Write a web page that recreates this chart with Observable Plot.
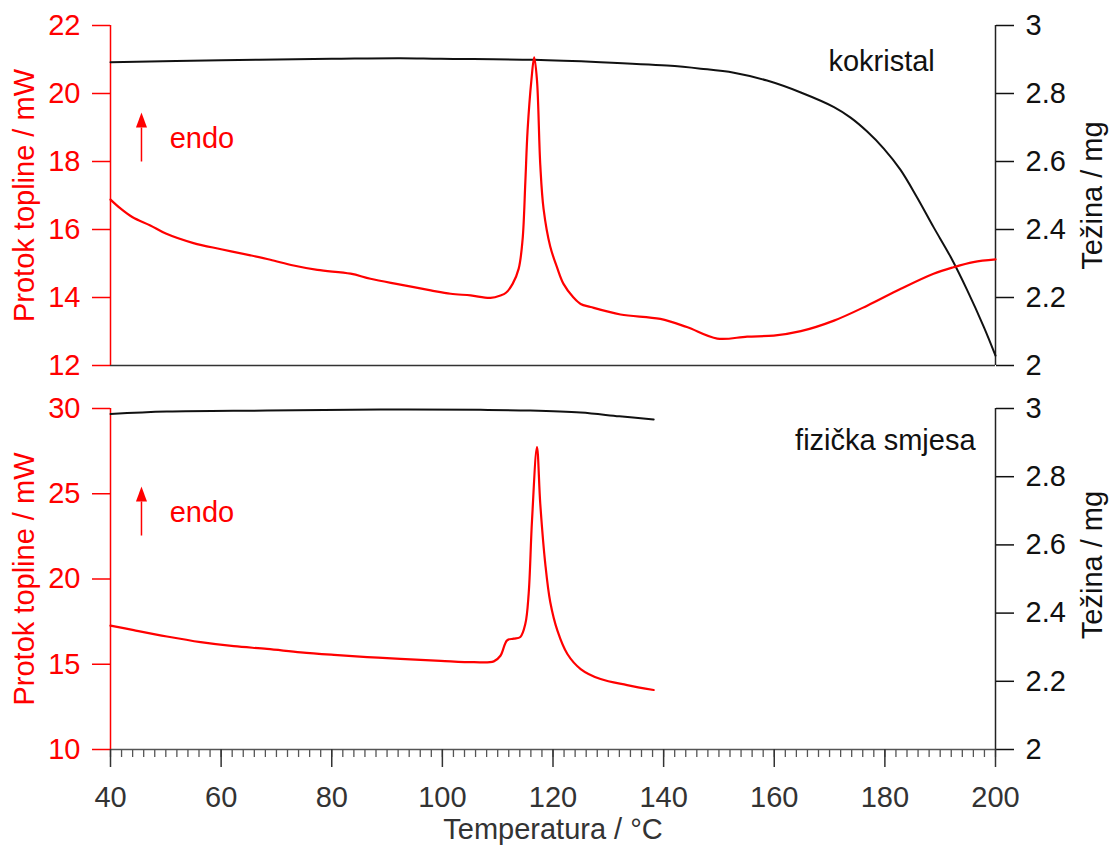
<!DOCTYPE html>
<html><head><meta charset="utf-8">
<script src="https://cdn.jsdelivr.net/npm/d3@7"></script>
<script src="https://cdn.jsdelivr.net/npm/@observablehq/plot@0.6"></script>
<style>
body{margin:0;background:#fff;font-family:"Liberation Sans",Arial,sans-serif}
#chart svg{display:block}
</style>
</head><body><div id="chart"></div>
<script>
// ---- data: kokristal (top) ----
const kokTemp = [40, 41.8, 44, 47.2, 50, 55, 60, 65.3, 68.9, 73.1, 77.4, 83.4, 87, 92.4, 97.9, 101.5, 105.1, 108.7, 110.5, 111.5, 112.7, 113.8, 114.5, 115, 115.4, 116.1, 116.6, 117.1, 117.7, 118.3, 119.5, 120.7, 121.9, 123.7, 125, 126.8, 132.2, 139.4, 144.2, 149.7, 155.1, 159.9, 164.8, 170.8, 176.8, 182.8, 188.8, 192.4, 196, 200];
const kokHeat = [16.88, 16.62, 16.36, 16.12, 15.88, 15.6, 15.42, 15.24, 15.11, 14.94, 14.81, 14.7, 14.55, 14.38, 14.21, 14.11, 14.06, 13.99, 14.06, 14.14, 14.4, 14.85, 15.7, 17.4, 18.9, 20.4, 21.06, 20.4, 17.9, 16.6, 15.5, 14.9, 14.4, 14.0, 13.81, 13.72, 13.5, 13.37, 13.13, 12.79, 12.85, 12.88, 13.01, 13.32, 13.76, 14.25, 14.7, 14.89, 15.04, 15.12];
const kokTgaTemp = [40, 60, 80, 92.4, 99.7, 116.5, 128.6, 140.6, 146.7, 152.7, 158.7, 164.8, 170.8, 173.8, 176.8, 179.8, 182.8, 185.8, 188.8, 191.9, 194.9, 197.9, 200];
const kokMass = [2.892, 2.898, 2.902, 2.904, 2.902, 2.899, 2.892, 2.882, 2.873, 2.861, 2.838, 2.803, 2.760, 2.729, 2.688, 2.638, 2.576, 2.495, 2.407, 2.319, 2.221, 2.113, 2.029];

// ---- data: fizička smjesa (bottom) ----
const mixTemp = [40, 44.2, 50.2, 56.3, 62.3, 68.3, 74.4, 80.4, 86.4, 92.4, 99.7, 105.7, 109.3, 110.5, 111.7, 112.9, 114.1, 115.0, 115.6, 116.2, 117.1, 117.7, 118.6, 119.5, 120.8, 122.6, 125, 128.6, 133.4, 138.2];
const mixHeat = [17.27, 17.0, 16.63, 16.3, 16.06, 15.9, 15.7, 15.55, 15.42, 15.32, 15.2, 15.12, 15.17, 15.5, 16.4, 16.5, 16.6, 17.37, 19.13, 23.4, 27.73, 24.4, 20.9, 18.65, 16.97, 15.6, 14.72, 14.13, 13.78, 13.49];
const mixTgaTemp = [40, 50.2, 68.3, 88.8, 106.9, 115.9, 125, 132, 138.2];
const mixMass = [2.984, 2.991, 2.994, 2.997, 2.996, 2.994, 2.988, 2.977, 2.968];

// ---- ticks and labels ----
const xTicks = [40, 60, 80, 100, 120, 140, 160, 180, 200];
const xMinorTicks = d3.range(40, 201, 2);
const topHeatTicks = [12, 14, 16, 18, 20, 22];
const bottomHeatTicks = [10, 15, 20, 25, 30];
const massTicks = [2, 2.2, 2.4, 2.6, 2.8, 3];
const heatLabel = "Protok topline / mW";
const massLabel = "Težina / mg";
const tempLabel = "Temperatura / °C";
const sampleNames = ["kokristal", "fizička smjesa"];
const endoText = "endo";

const FS = 29;
const FONT = "Liberation Sans, Arial, sans-serif";
const fmt = d3.format(".1~f");
const smooth = d3.curveCatmullRom.alpha(0.5);

function panel(o) {
  const toHeat = d3.scaleLinear([2, 3], o.heatDomain);
  const dsc = o.temp.map((t, i) => ({t, v: o.heat[i]}));
  const tga = o.tgaTemp.map((t, i) => ({t, v: toHeat(o.mass[i])}));
  const marks = [
    Plot.ruleY([o.heatDomain[0]], {stroke: o.showX ? "#555" : "#333", strokeWidth: 1.5}),
    Plot.ruleX([40], {stroke: "red", strokeWidth: 1.5}),
    Plot.ruleX([200], {stroke: "#222", strokeWidth: 1.5}),
    Plot.axisY(o.heatTicks, {anchor: "left", color: "red", tickSize: 18, tickPadding: 12, strokeWidth: 1.5,
      fontSize: FS, label: heatLabel, labelAnchor: "center", labelOffset: 97, labelArrow: "none"}),
    Plot.axisY(massTicks.map(toHeat), {anchor: "right", color: "#111", tickSize: 18, tickPadding: 12, strokeWidth: 1.5,
      fontSize: FS, tickFormat: d => fmt(toHeat.invert(d)), label: null}),
    Plot.text([massLabel], {frameAnchor: "right", text: d => d, rotate: -90, dx: 106, dy: o.massLabelShift,
      lineAnchor: "bottom", textAnchor: "middle", fontSize: FS, fill: "#111"}),
    Plot.line(tga, {x: "t", y: "v", stroke: "#111", strokeWidth: 2, curve: smooth}),
    Plot.line(dsc, {x: "t", y: "v", stroke: "red", strokeWidth: 2.2, curve: smooth}),
    Plot.text([o.name], {x: o.nameAt[0], y: o.nameAt[1], text: d => d, textAnchor: o.nameAnchor, lineAnchor: "bottom", fontSize: FS, fill: "#111"}),
    Plot.text([endoText], {x: o.endoAt[0], y: o.endoAt[1], text: d => d, textAnchor: "start", lineAnchor: "bottom", fontSize: FS, fill: "red"}),
    Plot.link([0], {x1: o.arrow[0], y1: o.arrow[1], x2: o.arrow[0], y2: o.arrow[2], stroke: "red", strokeWidth: 1.5}),
    Plot.vector([0], {x: o.arrow[0], y: o.arrow[2], length: 15, r: 5.5, shape: "spike", anchor: "start", fill: "red", stroke: "none"})
  ];
  if (o.showX) {
    marks.push(
      Plot.axisX(xMinorTicks, {anchor: "bottom", tickSize: 8, stroke: "#555", strokeWidth: 1.3, tickFormat: () => "", label: null}),
      Plot.axisX(xTicks, {anchor: "bottom", tickSize: 18, tickPadding: 19, color: "#333", strokeWidth: 1.5, fontSize: FS,
        label: tempLabel, labelAnchor: "center", labelOffset: 89, labelArrow: "none"})
    );
  }
  return Plot.plot({
    width: 1110, height: o.height,
    marginLeft: 110, marginRight: 115, marginTop: o.marginTop, marginBottom: o.marginBottom,
    style: {fontFamily: FONT, fontSize: FS + "px", background: "#fff"},
    x: {domain: [40, 200], axis: null},
    y: {domain: o.heatDomain, axis: null},
    marks
  });
}

const topPlot = panel({
  heatDomain: [12, 22], heatTicks: topHeatTicks,
  temp: kokTemp, heat: kokHeat, tgaTemp: kokTgaTemp, mass: kokMass,
  name: sampleNames[0], nameAt: [169.8, 20.65], nameAnchor: "start",
  endoAt: [50.7, 18.39], arrow: [45.6, 18.0, 19.0], massLabelShift: 0,
  height: 380, marginTop: 25, marginBottom: 15, showX: false
});
const bottomPlot = panel({
  heatDomain: [10, 30], heatTicks: bottomHeatTicks,
  temp: mixTemp, heat: mixHeat, tgaTemp: mixTgaTemp, mass: mixMass,
  name: sampleNames[1], nameAt: [196.4, 27.54], nameAnchor: "end",
  endoAt: [50.7, 23.33], arrow: [45.6, 22.55, 24.55], massLabelShift: -14,
  height: 470, marginTop: 28, marginBottom: 101, showX: true
});
document.getElementById("chart").append(topPlot, bottomPlot);
</script>
</body></html>
